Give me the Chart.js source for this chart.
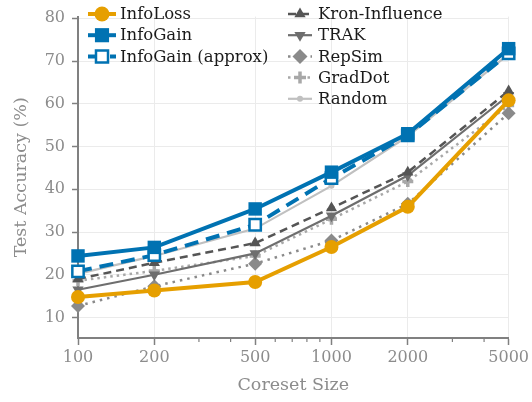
<!DOCTYPE html>
<html>
<head>
<meta charset="utf-8">
<script src="https://cdn.jsdelivr.net/npm/chart.js@4"></script>
<style>
  html, body { margin: 0; padding: 0; background: #fff; }
  #wrap { width: 532px; height: 402px; }
</style>
</head>
<body>
<div id="wrap"><canvas id="chart" width="532" height="402"></canvas></div>
<script>
// coreset sizes (x) and test accuracy per method (y, %)
const coresetSizes = [100, 200, 500, 1000, 2000, 5000];
const infoLoss     = [14.8, 16.3, 18.3, 26.5, 35.9, 60.8];
const infoGain     = [24.4, 26.4, 35.4, 44.0, 53.0, 72.9];
const infoGainApx  = [20.8, 24.6, 31.7, 42.6, 52.6, 71.8];
const kronInfl     = [19.0, 22.8, 27.4, 35.6, 44.0, 63.0];
const trak         = [16.5, 20.0, 25.0, 33.8, 43.2, 62.0];
const repSim       = [12.7, 17.3, 22.6, 28.0, 36.6, 57.8];
const gradDot      = [18.6, 20.9, 24.4, 33.0, 41.8, 59.6];
const randomSel    = [20.2, 24.4, 30.8, 40.8, 52.4, 71.6];

// axis ticks
const xMajorTicks = [100, 200, 500, 1000, 2000, 5000];
const xMinorTicks = [300, 400, 600, 700, 800, 900, 3000, 4000];
const yTicks = [10, 20, 30, 40, 50, 60, 70, 80];

const FONT = "'DejaVu Serif', serif";
const TXT = '#8c8c8c';
const AXIS = '#808080';
const GRID = '#ebebeb';

function pts(arr) {
  return arr.map((v, i) => ({ x: coresetSizes[i], y: v }));
}

// legend drawn inside the plot, two columns (like the paper figure)
const legendPlugin = {
  id: 'twoColLegend',
  afterDraw(chart) {
    const ctx = chart.ctx;
    const cols = [
      { x0: 88, x1: 116, tx: 120, y0: 14 },
      { x0: 288, x1: 312, tx: 318, y0: 14 }
    ];
    const rowH = 21.2;
    chart.data.datasets.forEach((ds, i) => {
      const c = i < 3 ? cols[0] : cols[1];
      const row = i < 3 ? i : i - 3;
      const y = c.y0 + row * rowH;
      ctx.save();
      ctx.strokeStyle = ds.borderColor;
      ctx.lineWidth = ds.borderWidth;
      ctx.setLineDash(ds.borderDash || []);
      ctx.beginPath();
      ctx.moveTo(c.x0, y);
      ctx.lineTo(c.x1, y);
      ctx.stroke();
      ctx.setLineDash([]);
      ctx.fillStyle = ds.pointBackgroundColor;
      ctx.strokeStyle = ds.pointBorderColor || ds.borderColor;
      ctx.lineWidth = ds.pointBorderWidth;
      Chart.helpers.drawPoint(ctx, {
        pointStyle: ds.pointStyle,
        rotation: ds.pointRotation || 0,
        radius: ds.legendRadius,
        borderWidth: ds.pointBorderWidth
      }, (c.x0 + c.x1) / 2, y);
      ctx.fillStyle = '#1a1a1a';
      ctx.font = '16.5px ' + FONT;
      ctx.textBaseline = 'middle';
      ctx.fillText(ds.label, c.tx, y + 1);
      ctx.restore();
    });
  }
};

// short minor ticks on the log x axis
const minorTickPlugin = {
  id: 'minorTicks',
  afterDraw(chart) {
    const sx = chart.scales.x;
    const ctx = chart.ctx;
    ctx.save();
    ctx.strokeStyle = AXIS;
    ctx.lineWidth = 1.2;
    xMinorTicks.forEach(v => {
      const px = sx.getPixelForValue(v);
      ctx.beginPath();
      ctx.moveTo(px, sx.top);
      ctx.lineTo(px, sx.top + 4);
      ctx.stroke();
    });
    ctx.restore();
  }
};

const ctx = document.getElementById('chart').getContext('2d');
new Chart(ctx, {
  type: 'line',
  data: {
    datasets: [
      { label: 'InfoLoss', data: pts(infoLoss), borderColor: '#E69F00', backgroundColor: '#E69F00',
        pointBackgroundColor: '#E69F00', borderWidth: 4, pointStyle: 'circle', pointRadius: 7,
        pointBorderWidth: 0, legendRadius: 7.5 },
      { label: 'InfoGain', data: pts(infoGain), borderColor: '#0072B2', backgroundColor: '#0072B2',
        pointBackgroundColor: '#0072B2', borderWidth: 4, pointStyle: 'rect', pointRadius: 9.5,
        pointBorderWidth: 0, legendRadius: 10 },
      { label: 'InfoGain (approx)', data: pts(infoGainApx), borderColor: '#0072B2', backgroundColor: '#fff',
        pointBackgroundColor: '#fff', borderWidth: 4, borderDash: [14, 8], pointStyle: 'rect', pointRadius: 8,
        pointBorderWidth: 2.5, legendRadius: 8.5 },
      { label: 'Kron-Influence', data: pts(kronInfl), borderColor: '#555555', backgroundColor: '#555555',
        pointBackgroundColor: '#555555', borderWidth: 2.5, borderDash: [8, 5], pointStyle: 'triangle', pointRadius: 6.5,
        pointBorderWidth: 0, legendRadius: 6.5 },
      { label: 'TRAK', data: pts(trak), borderColor: '#6e6e6e', backgroundColor: '#6e6e6e',
        pointBackgroundColor: '#6e6e6e', borderWidth: 2.2, pointStyle: 'triangle', pointRotation: 180, pointRadius: 6.5,
        pointBorderWidth: 0, legendRadius: 6.5 },
      { label: 'RepSim', data: pts(repSim), borderColor: '#8a8a8a', backgroundColor: '#8a8a8a',
        pointBackgroundColor: '#8a8a8a', borderWidth: 2.5, borderDash: [2.5, 5], pointStyle: 'rectRot', pointRadius: 7,
        pointBorderWidth: 0, legendRadius: 7.5 },
      { label: 'GradDot', data: pts(gradDot), borderColor: '#a8a8a8', backgroundColor: '#a8a8a8',
        pointBackgroundColor: '#a8a8a8', pointBorderColor: '#a8a8a8', borderWidth: 2.5, borderDash: [2.5, 4],
        pointStyle: 'cross', pointRadius: 5.5, pointBorderWidth: 3.5, legendRadius: 6 },
      { label: 'Random', data: pts(randomSel), borderColor: '#c0c0c0', backgroundColor: '#c0c0c0',
        pointBackgroundColor: '#c0c0c0', borderWidth: 2.2, pointStyle: 'circle', pointRadius: 3,
        pointBorderWidth: 0, legendRadius: 3 }
    ]
  },
  options: {
    responsive: false,
    animation: false,
    devicePixelRatio: 1,
    layout: { padding: { top: 11, right: 21, left: 0, bottom: 0 } },
    elements: { line: { tension: 0 } },
    datasets: { line: { clip: false } },
    plugins: {
      legend: { display: false },
      tooltip: { enabled: false }
    },
    scales: {
      x: {
        type: 'logarithmic',
        min: 100,
        max: 5000,
        afterBuildTicks: s => { s.ticks = xMajorTicks.map(v => ({ value: v })); },
        afterFit: s => { s.height = 64; },
        grid: { color: GRID, lineWidth: 1, tickColor: AXIS, tickLength: 7, tickWidth: 1.5 },
        border: { color: AXIS, width: 2 },
        ticks: {
          color: TXT, font: { family: FONT, size: 16 }, padding: 3,
          maxRotation: 0, autoSkip: false,
          callback: v => String(v)
        },
        title: { display: true, text: 'Coreset Size', color: TXT,
          font: { family: FONT, size: 17.5 }, padding: { top: 0, bottom: 6 } }
      },
      y: {
        min: 5.2,
        max: 80.4,
        afterBuildTicks: s => { s.ticks = yTicks.map(v => ({ value: v })); },
        afterFit: s => { s.width = 78; },
        grid: { color: GRID, lineWidth: 1, tickColor: AXIS, tickLength: 6, tickWidth: 1.5 },
        border: { color: AXIS, width: 2 },
        ticks: { color: TXT, font: { family: FONT, size: 16 }, padding: 7 },
        title: { display: true, text: 'Test Accuracy (%)', color: TXT,
          font: { family: FONT, size: 17.5 }, padding: { top: 11, bottom: 0 } }
      }
    }
  },
  plugins: [minorTickPlugin, legendPlugin]
});
</script>
</body>
</html>
